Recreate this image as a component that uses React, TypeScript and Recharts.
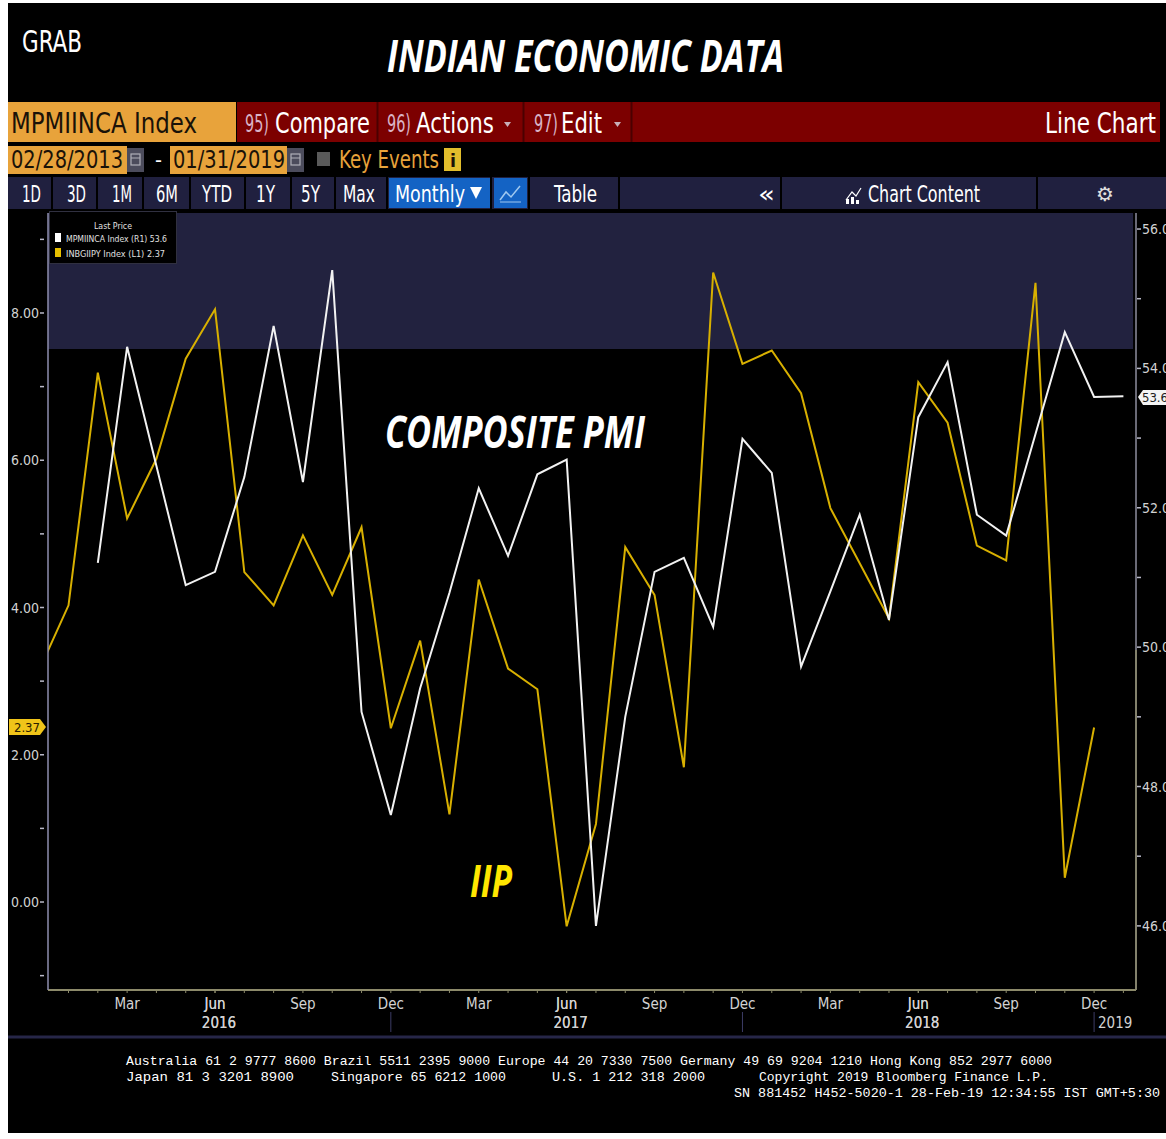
import React from 'react';
import { LineChart, Line, XAxis, YAxis, ReferenceArea } from 'recharts';

// ---------------- DATA ----------------
const months = [
  '2015-12', '2016-01', '2016-02', '2016-03', '2016-04', '2016-05', '2016-06', '2016-07', '2016-08', '2016-09', '2016-10', '2016-11',
  '2016-12', '2017-01', '2017-02', '2017-03', '2017-04', '2017-05', '2017-06', '2017-07', '2017-08', '2017-09', '2017-10', '2017-11',
  '2017-12', '2018-01', '2018-02', '2018-03', '2018-04', '2018-05', '2018-06', '2018-07', '2018-08', '2018-09', '2018-10', '2018-11',
  '2018-12', '2019-01',
];

// INBGIIPY Index (L1) - IIP, % YoY
const iipValues: (number | null)[] = [
  3.15, 4.03, 7.19, 5.21, 6.02, 7.38, 8.05, 4.48, 4.03, 4.98, 4.17, 5.09,
  2.36, 3.55, 1.19, 4.38, 3.17, 2.89, -0.33, 1.06, 4.82, 4.17, 1.83, 8.55,
  7.31, 7.49, 6.91, 5.35, 4.6, 3.85, 7.06, 6.51, 4.84, 4.64, 8.41, 0.33,
  2.37, null,
];

// MPMIINCA Index (R1) - Composite PMI
const pmiValues: (number | null)[] = [
  null, null, 51.21, 54.31, 52.6, 50.89, 51.08, 52.44, 54.61, 52.37, 55.41, 49.07,
  47.59, 49.41, 50.78, 52.28, 51.31, 52.48, 52.69, 46.0, 49.0, 51.08, 51.28, 50.29,
  52.99, 52.5, 49.72, 50.8, 51.9, 50.39, 53.3, 54.09, 51.9, 51.6, 53.06, 54.52,
  53.59, 53.6,
];

const leftTicks = [-1, 0, 1, 2, 3, 4, 5, 6, 7, 8, 9];
const rightTicks = [46, 47, 48, 49, 50, 51, 52, 53, 54, 55, 56];
const leftDomain: [number, number] = [-1.195, 9.358];
const rightDomain: [number, number] = [45.08, 56.23];
const xDomain: [number, number] = [0.3, 37.43];

const MONTH_ABBR = ['Jan', 'Feb', 'Mar', 'Apr', 'May', 'Jun', 'Jul', 'Aug', 'Sep', 'Oct', 'Nov', 'Dec'];
const labeledMonths = ['Mar', 'Jun', 'Sep', 'Dec'];
const yearLabels = ['2016', '2017', '2018', '2019'];
const yearLabelPos = [6, 18, 30, 36.72];
const yearSeparators = ['Dec'];

const highlightBand = { from: 7.51, to: 9.358 };

const data = months.map((m, i) => ({ idx: i, month: m, iip: iipValues[i], pmi: pmiValues[i] }));
const monthTicks = months.map((_, i) => i).slice(1);
const xTicks = [...monthTicks, ...yearLabelPos].sort((a, b) => a - b);

// ---------------- STYLE ----------------
const NARROW = "'Liberation Sans Narrow', 'DejaVu Sans Condensed', 'Liberation Sans', sans-serif";
const BOLDI = "'Open Sans', 'Liberation Sans', sans-serif";
const MONO = "'Liberation Mono', 'DejaVu Sans Mono', monospace";
const ORANGE = '#E8A33B';
const RED = '#7C0000';
const NAVY = '#20203F';
const YELLOW = '#D8B000';
const TICK_COLOR = '#D2D2D2';

const monthAbbrOf = (i: number) => MONTH_ABBR[parseInt(months[i].slice(5), 10) - 1];

const XTick = (props: any) => {
  const { x, y, payload } = props;
  const v = payload.value as number;
  const yi = yearLabelPos.indexOf(v);
  if (yi >= 0 && !Number.isInteger(v)) {
    return (
      <text x={x} y={y + 38} textAnchor="middle" fontSize={15} fill={TICK_COLOR} fontFamily={NARROW}>
        {yearLabels[yi]}
      </text>
    );
  }
  const abbr = monthAbbrOf(v);
  return (
    <g>
      <line x1={x} x2={x} y1={y} y2={y + 3} stroke="#8C8A6A" strokeWidth={1} />
      {labeledMonths.includes(abbr) && (
        <text x={x} y={y + 19} textAnchor="middle" fontSize={15} fill={TICK_COLOR} fontFamily={NARROW}>
          {abbr}
        </text>
      )}
      {yi >= 0 && (
        <text x={x + 4} y={y + 38} textAnchor="middle" fontSize={15} fill={TICK_COLOR} fontFamily={NARROW}>
          {yearLabels[yi]}
        </text>
      )}
      {yearSeparators.includes(abbr) && (
        <line x1={x} x2={x} y1={y + 22} y2={y + 42} stroke="#3C3C66" strokeWidth={1} />
      )}
    </g>
  );
};

const LeftTick = (props: any) => {
  const { x, y, payload } = props;
  const v = payload.value as number;
  const labeled = v >= 0 && v % 2 === 0;
  return (
    <g>
      <line x1={x - 8} x2={x - 4} y1={y} y2={y} stroke="#B8B8C8" strokeWidth={1.5} />
      {labeled && (
        <text x={x - 9} y={y + 5} textAnchor="end" fontSize={14} fill={TICK_COLOR} fontFamily={NARROW}>
          {v.toFixed(2)}
        </text>
      )}
    </g>
  );
};

const RightTick = (props: any) => {
  const { x, y, payload } = props;
  const v = payload.value as number;
  const labeled = v % 2 === 0;
  return (
    <g>
      <line x1={x + 1} x2={x + 5} y1={y} y2={y} stroke="#B8B8C8" strokeWidth={1.5} />
      {labeled && (
        <text x={x + 6} y={y + 5} textAnchor="start" fontSize={14} fill={TICK_COLOR} fontFamily={NARROW}>
          {v.toFixed(1)}
        </text>
      )}
    </g>
  );
};

const T = (p: any) => (
  <text
    x={p.x}
    y={p.y}
    fontSize={p.size}
    fill={p.fill || '#FFFFFF'}
    fontFamily={p.font || NARROW}
    fontWeight={p.weight || 'normal'}
    fontStyle={p.italic ? 'italic' : 'normal'}
    textLength={p.w}
    lengthAdjust="spacingAndGlyphs"
    textAnchor={p.anchor || 'start'}
  >
    {p.children}
  </text>
);

const CalIcon = ({ x }: { x: number }) => (
  <g>
    <rect x={x} y={148} width={17} height={24} fill="#4C4C5C" />
    <rect x={x + 4} y={154} width={9} height={11} fill="none" stroke="#B0B0B8" strokeWidth={1.2} />
    <line x1={x + 4} x2={x + 13} y1={158} y2={158} stroke="#B0B0B8" strokeWidth={1} />
  </g>
);

const Screen = () => (
  <svg width={1166} height={1139} style={{ position: 'absolute', left: 0, top: 0 }}>
    <rect x={0} y={0} width={1166} height={1139} fill="#FFFFFF" />
    <rect x={8} y={3} width={1158} height={1130} fill="#000000" />
    {/* top */}
    <T x={22} y={52} size={31} w={60}>GRAB</T>
    <T x={387} y={72} size={44} w={397} weight="bold" italic font={BOLDI}>INDIAN ECONOMIC DATA</T>

    {/* row 1 */}
    <rect x={8} y={102} width={228} height={40} fill={ORANGE} />
    <rect x={237} y={102} width={923} height={40} fill={RED} />
    <line x1={377.5} x2={377.5} y1={102} y2={142} stroke="#4A0000" strokeWidth={2} />
    <line x1={523.5} x2={523.5} y1={102} y2={142} stroke="#4A0000" strokeWidth={2} />
    <line x1={631.5} x2={631.5} y1={102} y2={142} stroke="#4A0000" strokeWidth={2} />
    <T x={11} y={133} size={28} w={186} fill="#1A1208">MPMIINCA Index</T>
    <T x={245} y={132} size={24} w={24} fill="#D9B3C6">95)</T>
    <T x={275} y={133} size={28} w={95}>Compare</T>
    <T x={387} y={132} size={24} w={24} fill="#D9B3C6">96)</T>
    <T x={416} y={133} size={28} w={78}>Actions</T>
    <polygon points="504,122 511,122 507.5,127" fill="#C8B0B8" />
    <T x={534} y={132} size={24} w={24} fill="#D9B3C6">97)</T>
    <T x={561} y={133} size={28} w={41}>Edit</T>
    <polygon points="614,122 621,122 617.5,127" fill="#C8B0B8" />
    <T x={1045} y={133} size={28} w={111}>Line Chart</T>

    {/* row 2 */}
    <rect x={8} y={146} width={119} height={28} fill={ORANGE} />
    <CalIcon x={127} />
    <T x={155} y={167} size={22} w={7}>-</T>
    <rect x={170} y={146} width={117} height={28} fill={ORANGE} />
    <CalIcon x={287} />
    <T x={11} y={168} size={25} w={112} fill="#1A1208">02/28/2013</T>
    <T x={173} y={168} size={25} w={112} fill="#1A1208">01/31/2019</T>
    <rect x={317} y={152} width={13} height={14} fill="#5A5A5A" />
    <T x={339} y={168} size={25} w={100} fill={ORANGE}>Key Events</T>
    <rect x={444} y={148} width={17} height={23} fill="#E2BE2C" />
    <T x={450} y={167} size={18} w={6} fill="#1A1208" weight="bold">i</T>

    {/* row 3 */}
    <rect x={8} y={177} width={1158} height={32} fill={NAVY} />
    {[52, 97, 143, 190, 245, 291, 335, 387, 491, 529, 619, 781, 1037].map((sx) => (
      <line key={sx} x1={sx} x2={sx} y1={177} y2={209} stroke="#000000" strokeWidth={2} />
    ))}
    <rect x={389} y={178} width={101} height={30} fill="#1463C4" />
    <rect x={494} y={178} width={33} height={30} fill="#1463C4" />
    <polyline points="500,200 506,192 511,197 520,186" fill="none" stroke="#9FC8F0" strokeWidth={1.5} />
    <line x1={500} x2={521} y1={202} y2={202} stroke="#9FC8F0" strokeWidth={1} />
    <T x={22} y={202} size={23} w={19}>1D</T>
    <T x={67} y={202} size={23} w={19}>3D</T>
    <T x={112} y={202} size={23} w={20}>1M</T>
    <T x={156} y={202} size={23} w={22}>6M</T>
    <T x={202} y={202} size={23} w={30}>YTD</T>
    <T x={256} y={202} size={23} w={19}>1Y</T>
    <T x={301} y={202} size={23} w={19}>5Y</T>
    <T x={343} y={202} size={23} w={32}>Max</T>
    <T x={395} y={202} size={23} w={70}>Monthly</T>
    <polygon points="470,187 482,187 476,199" fill="#FFFFFF" />
    <T x={554} y={202} size={23} w={43}>Table</T>
    <T x={758} y={202} size={23} w={17}>«</T>
    <polyline points="846,200 852,192 856,196 861,188" fill="none" stroke="#FFFFFF" strokeWidth={1.2} />
    <rect x={846} y={199} width={3} height={5} fill="#FFFFFF" />
    <rect x={851} y={197} width={3} height={7} fill="#FFFFFF" />
    <rect x={856} y={200} width={3} height={4} fill="#FFFFFF" />
    <T x={868} y={202} size={23} w={112}>Chart Content</T>
    <text x={1105} y={201} fontSize={20} fill="#E0E0E0" textAnchor="middle" fontFamily="'DejaVu Sans', sans-serif">⚙</text>

    {/* footer */}
    <line x1={8} x2={1166} y1={1037} y2={1037} stroke="#262648" strokeWidth={3} />
    <T x={126} y={1065} size={13} w={926} font={MONO}>Australia 61 2 9777 8600 Brazil 5511 2395 9000 Europe 44 20 7330 7500 Germany 49 69 9204 1210 Hong Kong 852 2977 6000</T>
    <T x={126} y={1081} size={13} w={168} font={MONO}>Japan 81 3 3201 8900</T>
    <T x={331} y={1081} size={13} w={175} font={MONO}>Singapore 65 6212 1000</T>
    <T x={552} y={1081} size={13} w={153} font={MONO}>U.S. 1 212 318 2000</T>
    <T x={759} y={1081} size={13} w={289} font={MONO}>Copyright 2019 Bloomberg Finance L.P.</T>
    <T x={734} y={1097} size={13} w={426} font={MONO}>SN 881452 H452-5020-1 28-Feb-19 12:34:55 IST  GMT+5:30</T>
  </svg>
);

const Overlay = () => (
  <svg width={1166} height={1139} style={{ position: 'absolute', left: 0, top: 0, pointerEvents: 'none' }}>
    {/* legend box */}
    <rect x={49.5} y={211.5} width={127} height={52} fill="#000000" stroke="#303040" strokeWidth={1} />
    <T x={94} y={229} size={9} w={38} fill="#E0E0E0">Last Price</T>
    <rect x={55} y={233} width={6} height={9} fill="#FFFFFF" />
    <T x={66} y={242} size={9} w={101} fill="#E0E0E0">MPMIINCA Index  (R1)  53.6</T>
    <rect x={55} y={248} width={6} height={9} fill="#E8C000" />
    <T x={66} y={257} size={9} w={99} fill="#E0E0E0">INBGIIPY Index  (L1)  2.37</T>

    {/* right axis lower segment tint */}
    <line x1={1136} x2={1136} y1={650} y2={990} stroke="#8C8A6A" strokeWidth={1.5} />

    {/* annotations */}
    <T x={385} y={448} size={45} w={260} weight="bold" italic font={BOLDI}>COMPOSITE PMI</T>
    <T x={470} y={897} size={44} w={42} weight="bold" italic font={BOLDI} fill="#FFE600">IIP</T>

    {/* last value tags */}
    <polygon points="9,719 40,719 46,727 40,735 9,735" fill="#F0C419" />
    <text x={27} y={732} fontSize={13} fill="#2A2000" textAnchor="middle" fontFamily={NARROW}>2.37</text>
    <polygon points="1138,397 1143,390 1166,390 1166,405 1143,405" fill="#F4F4F4" />
    <text x={1155} y={402} fontSize={13} fill="#202020" textAnchor="middle" fontFamily={NARROW}>53.6</text>
  </svg>
);

export default function App() {
  return (
    <div style={{ position: 'absolute', left: 0, top: 0, width: 1166, height: 1139, overflow: 'hidden' }}>
      <Screen />
      <div style={{ position: 'absolute', left: 0, top: 200 }}>
        <LineChart
          width={1166}
          height={840}
          data={data}
          margin={{ top: 13, right: 0, bottom: 5, left: 8 }}
        >
          <XAxis
            dataKey="idx"
            type="number"
            domain={xDomain}
            allowDataOverflow
            ticks={xTicks}
            interval={0}
            tickSize={0}
            tickMargin={0}
            tickLine={false}
            height={45}
            axisLine={{ stroke: '#8C8A6A', strokeWidth: 2 }}
            tick={<XTick />}
          />
          <YAxis
            yAxisId="L"
            orientation="left"
            type="number"
            domain={leftDomain}
            allowDataOverflow
            ticks={leftTicks}
            interval={0}
            width={40}
            tickSize={0}
            tickMargin={0}
            tickLine={false}
            axisLine={{ stroke: '#8E8EAE', strokeWidth: 1.5 }}
            tick={<LeftTick />}
          />
          <YAxis
            yAxisId="R"
            orientation="right"
            type="number"
            domain={rightDomain}
            allowDataOverflow
            ticks={rightTicks}
            interval={0}
            width={30}
            tickSize={0}
            tickMargin={0}
            tickLine={false}
            axisLine={{ stroke: '#8E8E9E', strokeWidth: 1.5 }}
            tick={<RightTick />}
          />
          <ReferenceArea
            yAxisId="L"
            x1={xDomain[0]}
            x2={37.33}
            y1={highlightBand.from}
            y2={highlightBand.to}
            fill="#22223F"
            fillOpacity={1}
            stroke="none"
            ifOverflow="hidden"
          />
          <Line
            yAxisId="L"
            type="linear"
            dataKey="iip"
            stroke={YELLOW}
            strokeWidth={2}
            dot={false}
            activeDot={false}
            isAnimationActive={false}
          />
          <Line
            yAxisId="R"
            type="linear"
            dataKey="pmi"
            stroke="#F2F2F2"
            strokeWidth={2}
            dot={false}
            activeDot={false}
            isAnimationActive={false}
          />
        </LineChart>
      </div>
      <Overlay />
    </div>
  );
}
